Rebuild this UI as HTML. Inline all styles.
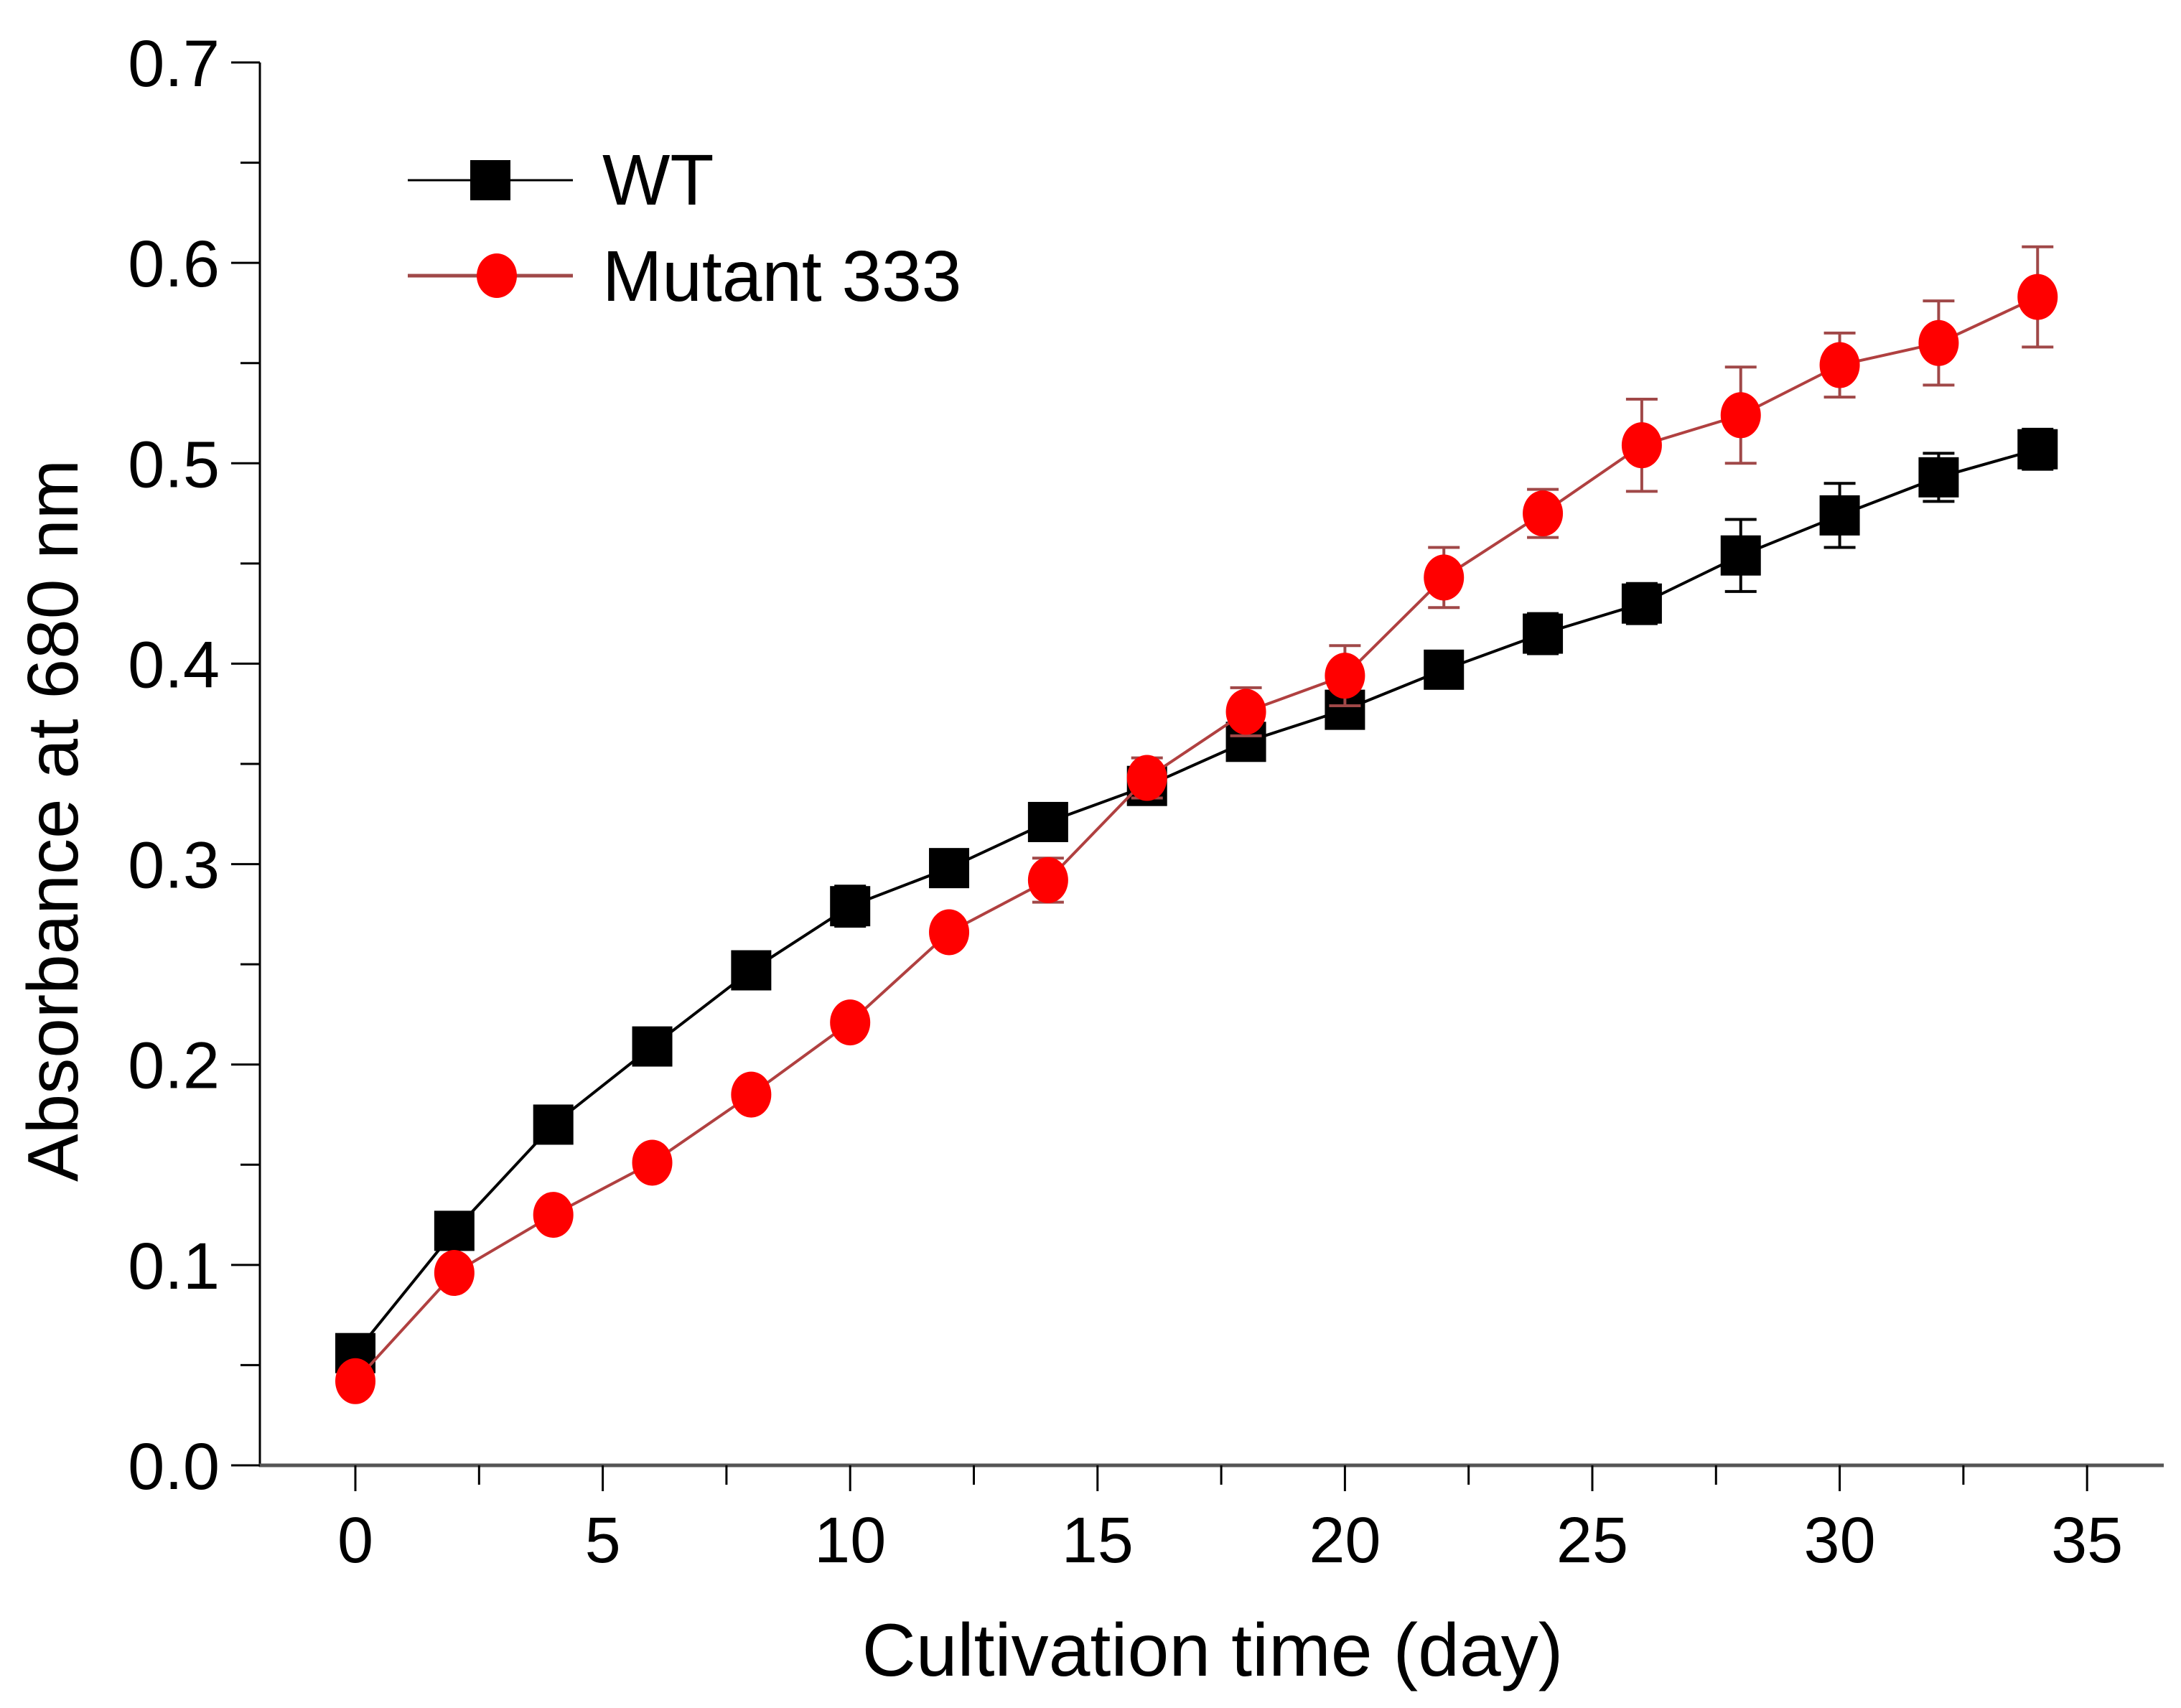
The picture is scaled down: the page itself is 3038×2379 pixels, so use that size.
<!DOCTYPE html>
<html><head><meta charset="utf-8"><style>
html,body{margin:0;padding:0;background:#fff;}
svg text{font-family:"Liberation Sans",Arial,sans-serif;fill:#000;}
</style></head><body>
<svg id="chart" width="3038" height="2374" viewBox="0 0 3038 2374" xmlns="http://www.w3.org/2000/svg">
<g id="axes"></g>
<g id="series"></g>
<g id="legend">
  <line x1="568" y1="251" x2="798" y2="251" stroke="#000" stroke-width="3"/>
  <rect x="655" y="223" width="56" height="56" fill="#000"/>
  <text x="839" y="285" font-size="100">WT</text>
  <line x1="568" y1="384" x2="798" y2="384" stroke="#a04848" stroke-width="5"/>
  <ellipse cx="692" cy="384" rx="28" ry="31" fill="#f00"/>
  <text x="839" y="419" font-size="100">Mutant 333</text>
</g>
<text x="1689" y="2334" font-size="104" text-anchor="middle">Cultivation time (day)</text>
<text transform="translate(108,1143) rotate(-90)" font-size="100" text-anchor="middle">Absorbance at 680 nm</text>
</svg>
<script>
const days = [0,2,4,6,8,10,12,14,16,18,20,22,24,26,28,30,32,34];
const wtValues = [0.056,0.117,0.170,0.209,0.247,0.279,0.298,0.321,0.339,0.361,0.377,0.397,0.415,0.430,0.454,0.474,0.493,0.507];
const wtErrors = [0.004,0.004,0.004,0.004,0.004,0.010,0.004,0.005,0.004,0.005,0.006,0.005,0.010,0.010,0.018,0.016,0.012,0.010];
const mutValues = [0.042,0.096,0.125,0.151,0.185,0.221,0.266,0.292,0.343,0.376,0.394,0.443,0.475,0.509,0.524,0.549,0.560,0.583];
const mutErrors = [0.004,0.004,0.004,0.004,0.004,0.004,0.004,0.011,0.010,0.012,0.015,0.015,0.012,0.023,0.024,0.016,0.021,0.025];
const xTicks = [0,5,10,15,20,25,30,35];
const yTicks = [0.0,0.1,0.2,0.3,0.4,0.5,0.6,0.7];
const yTickLabels = ["0.0","0.1","0.2","0.3","0.4","0.5","0.6","0.7"];

const NS='http://www.w3.org/2000/svg';
const X0=362, X1=3014, XMIN=-1.93, XMAX=36.55;
const Y0=2041, Y1=87, YMIN=0, YMAX=0.7;
function sx(v){return X0+(v-XMIN)/(XMAX-XMIN)*(X1-X0);}
function sy(v){return Y0-(v-YMIN)/(YMAX-YMIN)*(Y0-Y1);}
function mk(tag,attrs,parent){const e=document.createElementNS(NS,tag);for(const k in attrs)e.setAttribute(k,attrs[k]);parent.appendChild(e);return e;}

const axes=document.getElementById('axes');
let e;
e=mk('line',{x1:X0,y1:Y1,x2:X0,y2:Y0+2,stroke:'#000','stroke-width':3},axes);


e=mk('line',{x1:X0-1,y1:Y0,x2:X1,y2:Y0,stroke:'#555','stroke-width':5},axes);


for(let i=0;i<yTicks.length;i++){
  const y=sy(yTicks[i]);
  e=mk('line',{x1:X0-40,y1:y,x2:X0,y2:y,stroke:'#000','stroke-width':3},axes);
  
  
  e=mk('text',{x:306,y:y+33,'font-size':92,'text-anchor':'end'},axes);
  e.textContent=yTickLabels[i];
  
  
  if(i<yTicks.length-1){
    const ym=sy(yTicks[i]+0.05);
    e=mk('line',{x1:X0-27,y1:ym,x2:X0,y2:ym,stroke:'#000','stroke-width':3},axes);
    
    
  }
}
for(let i=0;i<xTicks.length;i++){
  const x=sx(xTicks[i]);
  e=mk('line',{x1:x,y1:Y0,x2:x,y2:Y0+36,stroke:'#000','stroke-width':3},axes);
  
  
  e=mk('text',{x:x,y:2176,'font-size':90,'text-anchor':'middle'},axes);
  e.textContent=String(xTicks[i]);
  
  
  if(i<xTicks.length-1){
    const xm=sx(xTicks[i]+2.5);
    e=mk('line',{x1:xm,y1:Y0,x2:xm,y2:Y0+27,stroke:'#000','stroke-width':3},axes);
    
    
  }
}

const series=document.getElementById('series');
function drawSeries(vals,errs,lineColor,errColor,markerColor,shape,name){
  const g=mk('g',{},series);
  
  
  const pts=days.map((d,i)=>sx(d)+','+sy(vals[i])).join(' ');
  e=mk('polyline',{points:pts,fill:'none',stroke:lineColor,'stroke-width':4},g);
  
  
  for(let i=0;i<days.length;i++){
    const x=sx(days[i]),yt=sy(vals[i]+errs[i]),yb=sy(vals[i]-errs[i]);
    const eg=mk('g',{stroke:errColor,'stroke-width':4},g);
    
    
    mk('line',{x1:x,y1:yt,x2:x,y2:yb},eg);
    mk('line',{x1:x-22,y1:yt,x2:x+22,y2:yt},eg);
    mk('line',{x1:x-22,y1:yb,x2:x+22,y2:yb},eg);
  }
  for(let i=0;i<days.length;i++){
    const x=sx(days[i]),y=sy(vals[i]);
    if(shape==='square'){
      e=mk('rect',{x:x-28,y:y-28,width:56,height:56,fill:markerColor},g);
    } else {
      e=mk('ellipse',{cx:x,cy:y,rx:28,ry:32,fill:markerColor},g);
    }
    
    
  }
}
drawSeries(wtValues,wtErrors,'#000','#000','#000','square','wt');
drawSeries(mutValues,mutErrors,'#b04040','#a04848','#f00','circle','mutant');
</script>
</body></html>
